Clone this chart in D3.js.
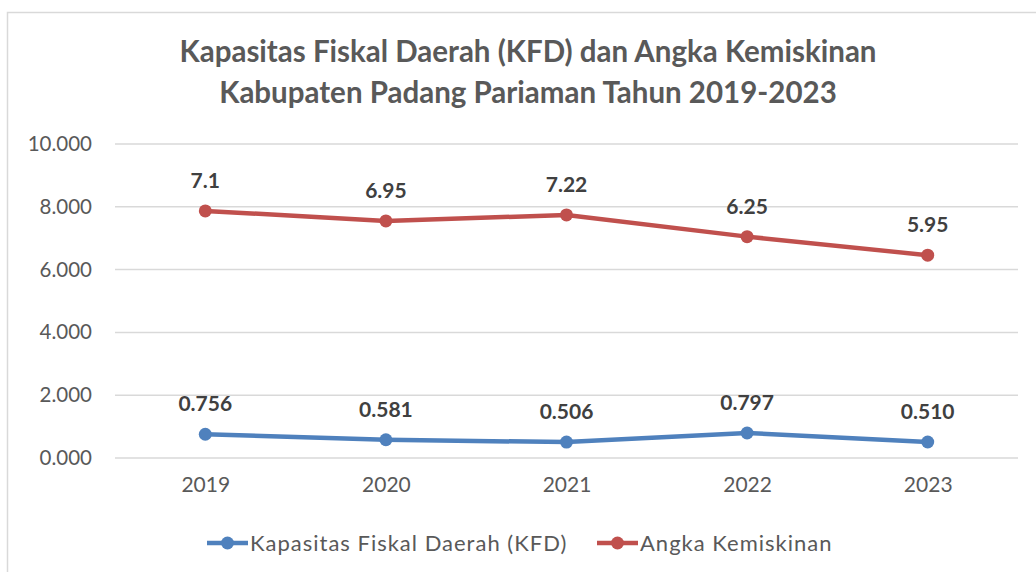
<!DOCTYPE html>
<html>
<head>
<meta charset="utf-8">
<script src="https://cdn.jsdelivr.net/npm/d3@7"></script>
<style>
  body { margin: 0; background: #fff; }
  svg text { font-family: Lato, "Open Sans", sans-serif; }
</style>
</head>
<body>
<div id="chart"></div>
<script>
// data
var years = ["2019", "2020", "2021", "2022", "2023"];
var kfd = [0.756, 0.581, 0.506, 0.797, 0.510];
var kfdLabels = ["0.756", "0.581", "0.506", "0.797", "0.510"];
var miskin = [7.87, 7.55, 7.74, 7.05, 6.46];
var miskinLabels = ["7.1", "6.95", "7.22", "6.25", "5.95"];
var yTicks = [0, 2, 4, 6, 8, 10];

var series = [
  { name: "Kapasitas Fiskal Daerah (KFD)", values: kfd, labels: kfdLabels, color: "#4f81bd" },
  { name: "Angka Kemiskinan", values: miskin, labels: miskinLabels, color: "#c0504d" }
];

var width = 1036, height = 572;

var svg = d3.select("#chart")
  .append("svg")
    .attr("width", width)
    .attr("height", height);

// chart frame
svg.append("rect")
  .attr("x", 7.5).attr("y", 12.5)
  .attr("width", 1040).attr("height", 600)
  .attr("fill", "#fff")
  .attr("stroke", "#d9d9d9")
  .attr("stroke-width", 1.5);

// title
var titleLines = ["Kapasitas Fiskal Daerah (KFD) dan Angka Kemiskinan",
                  "Kabupaten Padang Pariaman Tahun 2019-2023"];
svg.selectAll(".title")
  .data(titleLines)
  .enter()
  .append("text")
    .attr("class", "title")
    .attr("x", 528)
    .attr("y", function(d, i) { return 62 + i * 41; })
    .attr("text-anchor", "middle")
    .attr("font-size", 29.5).attr("font-weight", "bold")
    .attr("fill", "#595959")
    .text(function(d) { return d; });

var x = d3.scalePoint()
  .domain(years)
  .range([115, 1018])
  .padding(0.5);

var y = d3.scaleLinear()
  .domain([0, 10])
  .range([458, 144]);

// gridlines
svg.append("g")
  .selectAll("line")
  .data(yTicks)
  .enter()
  .append("line")
    .attr("x1", 115).attr("x2", 1018)
    .attr("y1", function(d) { return y(d); })
    .attr("y2", function(d) { return y(d); })
    .attr("stroke", "#d9d9d9")
    .attr("stroke-width", 1.5);

// y axis labels
var yAxis = svg.append("g")
  .attr("transform", "translate(92,0)")
  .call(d3.axisLeft(y).tickValues(yTicks).tickSize(0).tickPadding(0)
    .tickFormat(d3.format(".3f")));
yAxis.select(".domain").remove();
yAxis.selectAll("text")
  .attr("font-size", 20.5)
  .attr("fill", "#595959")
  .style("font-family", "Lato, 'Open Sans', sans-serif");

// x axis labels
var xAxis = svg.append("g")
  .attr("transform", "translate(0,477)")
  .call(d3.axisBottom(x).tickSize(0).tickPadding(0));
xAxis.select(".domain").remove();
xAxis.selectAll("text")
  .attr("font-size", 21)
  .attr("fill", "#595959")
  .style("font-family", "Lato, 'Open Sans', sans-serif");

var line = d3.line()
  .x(function(d, i) { return x(years[i]); })
  .y(function(d) { return y(d); });

series.forEach(function(s) {
  var g = svg.append("g");
  g.append("path")
    .attr("d", line(s.values))
    .attr("fill", "none")
    .attr("stroke", s.color)
    .attr("stroke-width", 4.5)
    .attr("stroke-linejoin", "round");
  g.selectAll("circle")
    .data(s.values)
    .enter()
    .append("circle")
      .attr("cx", function(d, i) { return x(years[i]); })
      .attr("cy", function(d) { return y(d); })
      .attr("r", 6.5)
      .attr("fill", s.color);
  g.selectAll("text")
    .data(s.values)
    .enter()
    .append("text")
      .attr("x", function(d, i) { return x(years[i]); })
      .attr("y", function(d) { return y(d) - 23; })
      .attr("text-anchor", "middle")
      .attr("font-size", 21).attr("font-weight", "bold")
      .attr("fill", "#404040")
      .text(function(d, i) { return s.labels[i]; });
});

// legend
var legendX = [207, 597];
series.forEach(function(s, i) {
  var lg = svg.append("g").attr("transform", "translate(" + legendX[i] + ",543)");
  lg.append("line")
    .attr("x1", 0).attr("x2", 41)
    .attr("stroke", s.color).attr("stroke-width", 4.5);
  lg.append("circle")
    .attr("cx", 20.5).attr("r", 6.5)
    .attr("fill", s.color);
  lg.append("text")
    .attr("x", 43).attr("y", 8)
    .attr("font-size", 22)
    .attr("letter-spacing", 1.0)
    .attr("fill", "#595959")
    .text(s.name);
});
</script>
</body>
</html>
